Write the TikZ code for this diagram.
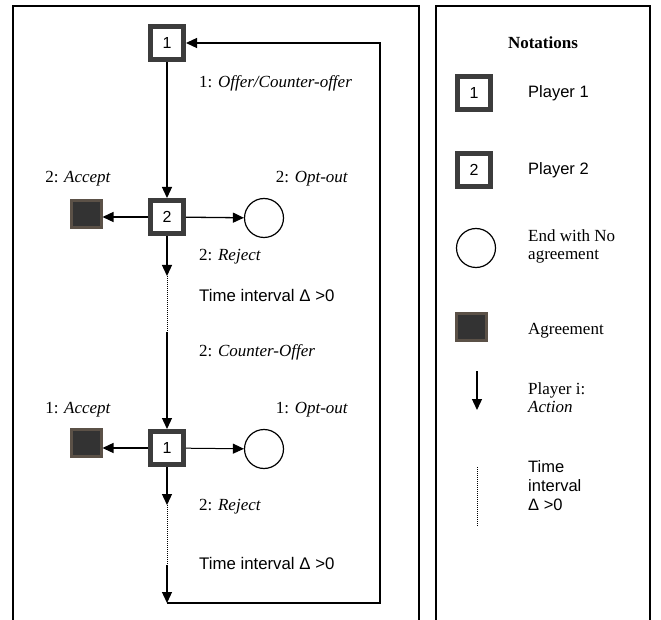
\documentclass[tikz,border=0pt]{standalone}
\usepackage{fontspec}
\setmainfont{Liberation Serif}
\setsansfont{Liberation Sans}
\usetikzlibrary{arrows.meta}
\definecolor{pgray}{HTML}{3C3C3C}
\definecolor{agfill}{HTML}{333333}
\definecolor{agedge}{HTML}{5B5147}
\begin{document}
\begin{tikzpicture}[x=1pt,y=-1pt,
  player/.style={draw=pgray,line width=5pt,fill=white,minimum size=33pt,inner sep=0pt,font=\sffamily\fontsize{16}{18}\selectfont},
  agree/.style={draw=agedge,fill=agfill,line width=3pt,minimum width=30pt,minimum height=27pt,inner sep=0pt},
  endc/.style={draw,circle,line width=1.2pt,minimum size=39pt,inner sep=0pt},
  act/.style={line width=1.3pt,-{Triangle[length=11pt,width=10pt]}},
  thinact/.style={line width=1pt,-{Triangle[length=11pt,width=10pt]}},
  timeline/.style={line width=1pt,dash pattern=on 1pt off 1pt},
  panel/.style={line width=1.4pt},
  lbl/.style={anchor=west,inner sep=0pt,font=\fontsize{17}{20}\selectfont},
  clbl/.style={inner sep=0pt,font=\fontsize{17}{20}\selectfont},
  slbl/.style={anchor=west,inner sep=0pt,font=\sffamily\fontsize{16.8}{19.5}\selectfont},
  leg/.style={anchor=west,inner sep=0pt,align=left,font=\fontsize{17}{18}\selectfont},
  sleg/.style={anchor=west,inner sep=0pt,align=left,font=\sffamily\fontsize{16.5}{19}\selectfont}]
\useasboundingbox (0,0) rectangle (661,620);
% panels
\draw[panel] (13,620) -- (13,6) -- (419,6) -- (419,620);
\draw[panel] (436,620) -- (436,6) -- (650,6) -- (650,620);
% main tree
\node[player] (n1) at (167,43) {1};
\node[player] (n2) at (167,217) {2};
\node[player] (n3) at (167,448) {1};
\node[agree] (a1) at (86,214) {};
\node[agree] (a2) at (86,443) {};
\node[endc] (e1) at (264,218) {};
\node[endc] (e2) at (264,449) {};
\coordinate (t1) at (167,276);
\coordinate (t2) at (167,332);
\coordinate (t3) at (167,505);
\coordinate (t4) at (167,565);
\coordinate (c) at (167,603);
\coordinate (r1) at (380,603);
\coordinate (r2) at (380,43);
\draw[act] (n1) -- (n2);
\draw[act] (n2) -- (a1.east |- n2);
\draw[act] (n2) -- (e1);
\draw[act] (n2) -- (t1);
\draw[timeline] (t1) -- (t2);
\draw[act] (t2) -- (n3);
\draw[act] (n3) -- (a2.east |- n3);
\draw[thinact] (n3) -- (e2);
\draw[act] (n3) -- (t3);
\draw[timeline] (t3) -- (t4);
\draw[act] (t4) -- (c);
\draw[act] (c) -- (r1) -- (r2) -- (n1);
% labels
\node[lbl] (l1) at (199,83) {1: \textit{Offer/Counter-offer}};
\node[clbl] (l2) at (78,179) {2: \textit{Accept}};
\node[clbl] (l3) at (312,179) {2: \textit{Opt-out}};
\node[lbl] (l4) at (199,257) {2: \textit{Reject}};
\node[slbl] (l5) at (199,295) {Time interval Δ >0};
\node[lbl] (l6) at (199,352) {2: \textit{Counter-Offer}};
\node[clbl] (l7) at (78,410) {1: \textit{Accept}};
\node[clbl] (l8) at (312,410) {1: \textit{Opt-out}};
\node[lbl] (l9) at (199,507) {2: \textit{Reject}};
\node[slbl] (l10) at (199,563) {Time interval Δ >0};
% legend
\node[inner sep=0pt,font=\bfseries\fontsize{17}{20}\selectfont] (nt) at (543,43) {Notations};
\node[player] (L1) at (474,93) {1};
\node[sleg] (LT1) at (528,93) {Player 1};
\node[player] (L2) at (474,170) {2};
\node[sleg] (LT2) at (528,170) {Player 2};
\node[endc] (Lc) at (476,248) {};
\node[leg] (LT3) at (528,246) {End with No\\agreement};
\node[agree] (La) at (471,327) {};
\node[leg] (LT4) at (528,331) {Agreement};
\coordinate (la1) at (477,371);
\coordinate (la2) at (477,410);
\draw[act] (la1) -- (la2);
\node[leg] (LT5) at (528,398) {Player i:\\\textit{Action}};
\coordinate (ld1) at (477,467);
\coordinate (ld2) at (477,527);
\draw[timeline] (ld1) -- (ld2);
\node[sleg] (LT6) at (528,486) {Time\\interval\\Δ >0};
\end{tikzpicture}
\end{document}
